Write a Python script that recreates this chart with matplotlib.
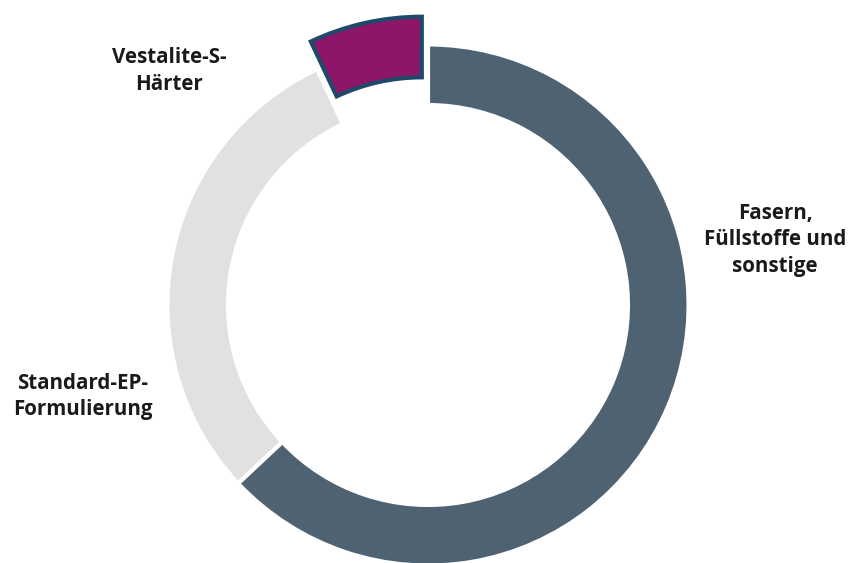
import matplotlib.pyplot as plt

labels = ['Fasern,\nFüllstoffe und\nsonstige', 'Standard-EP-\nFormulierung', 'Vestalite-S-\nHärter']
values = [63, 30, 7]
colors = ['#4f6272', '#e1e1e1', '#8f1568']
explode = [0, 0, 0.11]

# label positions in data units (radius = 1)
label_pos = [(1.345, 0.252), (-1.337, -0.353), (-1.004, 0.907)]

plt.rcParams['font.family'] = ['Open Sans', 'DejaVu Sans']

fig = plt.figure(figsize=(8.49, 5.63), dpi=100)
ax = fig.add_axes([0, 0, 1, 1])

wedges, _ = ax.pie(values, colors=colors, explode=explode, startangle=90,
                   counterclock=False, radius=1.01,
                   wedgeprops=dict(width=0.235, edgecolor='white', linewidth=3))
wedges[2].set_edgecolor('#1d4a6b')
wedges[2].set_linewidth(3)

for lab, (x, y) in zip(labels, label_pos):
    ax.text(x, y, lab, ha='center', va='center', fontsize=14.8,
            fontweight='bold', color='#1a1a1a', linespacing=1.32)

ax.set_aspect('auto')
ax.set_xlim(-428 / 258, 421 / 258)
ax.set_ylim(-1.0, 305 / 258)
ax.axis('off')

fig.savefig('out.png', dpi=100)
